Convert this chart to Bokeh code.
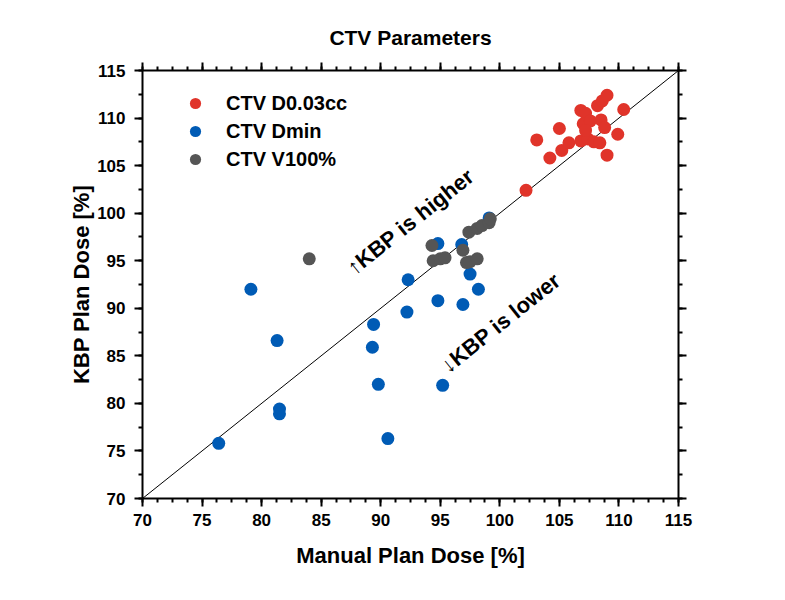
from bokeh.plotting import figure
from bokeh.models import LinearAxis, FixedTicker, Range1d, Legend, LegendItem
from bokeh.core.properties import value
from bokeh.embed import file_html
from bokeh.resources import INLINE

# ---- data ----
red_x = [102.2, 103.1, 104.2, 105.0, 105.2, 105.8, 106.8, 107.2, 107.0, 106.8, 107.4,
         108.2, 108.6, 109.0, 108.5, 108.8, 107.9, 108.4, 109.0, 109.9, 110.4, 107.6, 107.2]
red_y = [102.4, 107.7, 105.8, 108.9, 106.6, 107.4, 110.8, 110.5, 109.4, 107.6, 107.8,
         111.3, 111.8, 112.4, 109.8, 109.0, 107.5, 107.4, 106.1, 108.3, 110.9, 109.7, 108.7]

blue_x = [76.4, 79.1, 81.3, 81.5, 81.5, 89.4, 89.3, 89.8, 90.6, 92.3, 92.2, 94.8, 95.2,
          94.8, 96.9, 97.5, 98.2, 99.1, 96.8]
blue_y = [75.8, 92.0, 86.6, 79.4, 78.9, 88.3, 85.9, 82.0, 76.3, 93.0, 89.6, 90.8, 81.9,
          96.8, 90.4, 93.6, 92.0, 99.5, 96.7]

gray_x = [84.0, 94.3, 94.4, 95.0, 95.4, 96.9, 97.2, 97.5, 98.1, 97.4, 98.1, 98.5, 99.1, 99.2]
gray_y = [95.2, 96.6, 95.0, 95.2, 95.3, 96.1, 94.8, 94.9, 95.2, 98.0, 98.4, 98.7, 99.0, 99.4]

series_names = ["CTV D0.03cc", "CTV Dmin", "CTV V100%"]
diag = [70, 115]
major_ticks = [70, 75, 80, 85, 90, 95, 100, 105, 110, 115]
minor_x = [70 + 1.25 * i for i in range(37)]
minor_y = [70 + 2.5 * i for i in range(19)]

ann_x = [87.4, 95.3]
ann_y = [94.0, 83.7]
ann_text = ["\u2191KBP is higher", "\u2193KBP is lower"]

RED = "#E0342A"
BLUE = "#005BB5"
GRAY = "#555555"
FONT = "Liberation Sans"

p = figure(width=777, height=596, output_backend="svg", toolbar_location=None,
           x_range=Range1d(70, 115), y_range=Range1d(70, 115),
           frame_width=536, frame_height=428,
           min_border_left=142, min_border_top=70, min_border_right=99, min_border_bottom=98,
           title="CTV Parameters")
p.xgrid.visible = False
p.ygrid.visible = False
p.outline_line_color = None
p.background_fill_color = "white"
p.border_fill_color = "white"

p.title.align = "center"
p.title.text_font = FONT
p.title.text_font_size = "21px"
p.title.text_font_style = "bold"
p.title.text_color = "black"
p.title.standoff = 27

def style_axis(ax, minor, labels=True):
    ax.ticker = FixedTicker(ticks=major_ticks, minor_ticks=minor)
    ax.axis_line_width = 2
    ax.axis_line_color = "black"
    ax.major_tick_line_width = 2
    ax.minor_tick_line_width = 2
    ax.major_tick_out = 8
    ax.major_tick_in = 0
    ax.minor_tick_out = 4
    ax.minor_tick_in = 0
    ax.major_label_text_font = FONT
    ax.major_label_text_font_style = "bold"
    ax.major_label_text_color = "black"
    if labels:
        ax.major_label_text_font_size = "17px"
    else:
        ax.major_label_text_font_size = "0px"
    ax.axis_label_text_font = FONT
    ax.axis_label_text_font_style = "bold"
    ax.axis_label_text_font_size = "22px"
    ax.axis_label_text_color = "black"

xa = p.xaxis[0]
ya = p.yaxis[0]
style_axis(xa, minor_x)
style_axis(ya, minor_y)
xa.axis_label = "Manual Plan Dose [%]"
ya.axis_label = "KBP Plan Dose [%]"
xa.major_label_standoff = 7
xa.axis_label_standoff = 14
ya.major_label_standoff = 9
ya.axis_label_standoff = 0

top = LinearAxis()
style_axis(top, minor_x, labels=False)
p.add_layout(top, "above")
right = LinearAxis()
style_axis(right, minor_y, labels=False)
p.add_layout(right, "right")

p.line(diag, diag, line_color="black", line_width=1)

r_red = p.scatter(red_x, red_y, size=13, fill_color=RED, line_color=None)
r_blue = p.scatter(blue_x, blue_y, size=13, fill_color=BLUE, line_color=None)
r_gray = p.scatter(gray_x, gray_y, size=13, fill_color=GRAY, line_color=None)

p.text(ann_x, ann_y, text=ann_text, angle=38.6, angle_units="deg",
       text_font=value(FONT), text_font_style="bold", text_font_size="22px",
       text_color="black", text_baseline="alphabetic", text_align="left")

legend = Legend(items=[LegendItem(label=series_names[0], renderers=[r_red]),
                       LegendItem(label=series_names[1], renderers=[r_blue]),
                       LegendItem(label=series_names[2], renderers=[r_gray])],
                location=(37, 325), border_line_color=None, background_fill_alpha=0,
                padding=0, margin=0, spacing=0, glyph_width=32, glyph_height=28,
                label_height=28, label_standoff=15,
                label_text_font=FONT, label_text_font_style="bold",
                label_text_font_size="20px", label_text_color="black")
p.add_layout(legend, "center")

open("out.html", "w").write(file_html(p, INLINE))
